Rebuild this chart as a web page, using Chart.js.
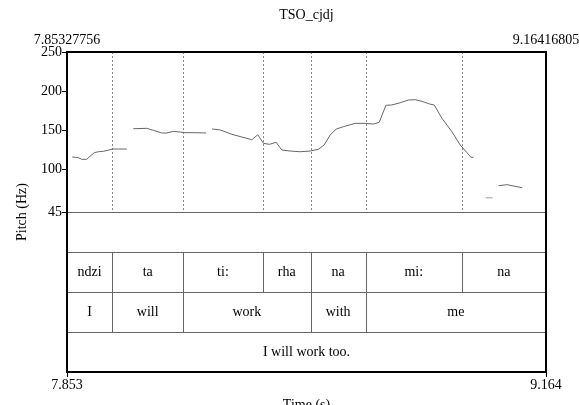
<!DOCTYPE html>
<html>
<head>
<meta charset="utf-8">
<script src="https://cdn.jsdelivr.net/npm/chart.js@4.4.0/dist/chart.umd.min.js"></script>
<style>
  html, body { margin: 0; padding: 0; background: #fff; }
  #wrap { width: 579px; height: 405px; }
</style>
</head>
<body>
<div id="wrap"><canvas id="chart-pitch"></canvas></div>
<script>
const T_START = 7.85327756;
const T_END = 9.16416805;

// pitch track, null = unvoiced gap
const pitchTimes = [
  7.8678, 7.8842, 7.8935, 7.9072, 7.9163, 7.9280, 7.9390, 7.9527, 7.9647, 7.9784, 7.9938, 8.0168,
  8.0250,
  8.0348, 8.0715, 8.0896, 8.1126, 8.1263, 8.1444, 8.1627, 8.1764, 8.2038, 8.2339,
  8.2420,
  8.2503, 8.2703, 8.2859, 8.3043, 8.3317, 8.3591, 8.3755, 8.3908, 8.4073, 8.4256, 8.4412,
  8.4639, 8.4913, 8.5187, 8.5414, 8.5570, 8.5735, 8.5899, 8.6099, 8.6419, 8.6693, 8.6920,
  8.7077, 8.7260, 8.7424, 8.7652, 8.7879, 8.8062, 8.8246, 8.8454, 8.8583, 8.8794, 8.9067,
  8.9295, 8.9478, 8.9588, 8.9659,
  8.9900,
  9.0344, 9.0573, 9.0992,
];
const pitchHz = [
  115.5, 114.6, 112.5, 112.5, 116.4, 121.0, 122.2, 122.8, 124.0, 125.7, 125.7, 125.7,
  null,
  151.7, 152.2, 149.7, 146.2, 146.2, 148.4, 147.5, 146.6, 146.6, 146.2,
  null,
  151.3, 150.4, 147.9, 144.5, 141.1, 137.6, 144.0, 133.0, 131.7, 134.3, 124.4,
  123.1, 122.2, 123.1, 125.3, 130.8, 143.6, 151.3, 154.3, 158.6, 158.6, 157.7,
  159.9, 181.7, 182.1, 185.0, 188.5, 188.9, 186.8, 183.4, 182.1, 165.0, 147.9,
  130.8, 121.0, 115.1, 115.1,
  null,
  78.7, 80.0, 76.1,
];
// faint isolated fragment
const faintTimes = [8.9992, 9.0179];
const faintHz = [63.3, 63.3];

const yTicks = [45, 100, 150, 200, 250];

const syllableBounds = [T_START, 7.9773, 8.1709, 8.3892, 8.5201, 8.6707, 8.9341, T_END];
const syllableLabels = ["ndzi", "ta", "ti:", "rha", "na", "mi:", "na"];
const wordBounds = [T_START, 7.9773, 8.1709, 8.5201, 8.6707, T_END];
const wordLabels = ["I", "will", "work", "with", "me"];
const sentenceBounds = [T_START, T_END];
const sentenceLabels = ["I will work too."];

// tier rows live below 45 Hz on the same y scale (each 51.25 Hz tall)
const tierEdges = [45, -6.25, -57.5, -108.75, -160];

const FONT = "Liberation Serif, 'Times New Roman', serif";

const textGridPlugin = {
  id: "textgrid",
  beforeDatasetsDraw(chart) {
    const { ctx, chartArea: a, scales: { x, y } } = chart;
    ctx.save();
    // dotted boundaries in the pitch panel
    ctx.strokeStyle = "#888";
    ctx.lineWidth = 1;
    ctx.setLineDash([2, 2]);
    syllableBounds.slice(1, -1).forEach((t) => {
      const px = Math.round(x.getPixelForValue(t)) + 0.5;
      ctx.beginPath();
      ctx.moveTo(px, a.top);
      ctx.lineTo(px, y.getPixelForValue(45));
      ctx.stroke();
    });
    ctx.setLineDash([]);
    ctx.restore();
  },
  afterDraw(chart) {
    const { ctx, chartArea: a, scales: { x, y } } = chart;
    ctx.save();
    ctx.strokeStyle = "#666";
    ctx.lineWidth = 1;
    tierEdges.slice(0, -1).forEach((v) => {
      const py = Math.round(y.getPixelForValue(v)) + 0.5;
      ctx.beginPath();
      ctx.moveTo(a.left, py);
      ctx.lineTo(a.right, py);
      ctx.stroke();
    });

    const tiers = [
      [syllableBounds, syllableLabels, 1],
      [wordBounds, wordLabels, 2],
      [sentenceBounds, sentenceLabels, 3],
    ];
    ctx.font = "14px " + FONT;
    ctx.fillStyle = "#000";
    ctx.textAlign = "center";
    ctx.textBaseline = "middle";
    tiers.forEach(([bounds, labels, row]) => {
      const top = y.getPixelForValue(tierEdges[row]);
      const bot = y.getPixelForValue(tierEdges[row + 1]);
      bounds.slice(1, -1).forEach((t) => {
        const px = Math.round(x.getPixelForValue(t)) + 0.5;
        ctx.beginPath();
        ctx.moveTo(px, top);
        ctx.lineTo(px, bot);
        ctx.stroke();
      });
      labels.forEach((lab, i) => {
        const cx = (x.getPixelForValue(bounds[i]) + x.getPixelForValue(bounds[i + 1])) / 2;
        ctx.fillText(lab, cx, (top + bot) / 2);
      });
    });

    // frame
    ctx.strokeStyle = "#000";
    ctx.lineWidth = 2;
    ctx.strokeRect(a.left, a.top, a.right - a.left, a.bottom - a.top);

    // top labels and titles
    ctx.font = "14px " + FONT;
    ctx.textBaseline = "alphabetic";
    ctx.fillText(String(T_START), a.left, a.top - 8);
    ctx.fillText(String(T_END), a.right, a.top - 8);
    ctx.fillText("TSO_cjdj", (a.left + a.right) / 2, 19);
    ctx.fillText("Time (s)", (a.left + a.right) / 2, 409);
    ctx.translate(22, (a.top + a.bottom) / 2);
    ctx.rotate(-Math.PI / 2);
    ctx.textBaseline = "middle";
    ctx.fillText("Pitch (Hz)", 0, 0);
    ctx.restore();
  },
};

function toPoints(xs, ys) {
  return xs.map((t, i) => ({ x: t, y: ys[i] }));
}

document.addEventListener("DOMContentLoaded", () => {
  new Chart(document.getElementById("chart-pitch"), {
    type: "line",
    data: {
      datasets: [
        { data: toPoints(pitchTimes, pitchHz), borderColor: "#666", borderWidth: 1, pointRadius: 0, spanGaps: false, tension: 0 },
        { data: toPoints(faintTimes, faintHz), borderColor: "#bbb", borderWidth: 1.5, pointRadius: 0, tension: 0 },
      ],
    },
    options: {
      responsive: true,
      maintainAspectRatio: false,
      animation: false,
      events: [],
      layout: { padding: { top: 52, right: 33, left: 0, bottom: 0 } },
      plugins: { legend: { display: false }, tooltip: { enabled: false } },
      scales: {
        x: {
          type: "linear",
          min: T_START,
          max: T_END,
          afterBuildTicks: (s) => { s.ticks = [{ value: T_START }, { value: T_END }]; },
          afterFit: (s) => { s.height = 33; },
          ticks: {
            autoSkip: false,
            maxRotation: 0,
            padding: 0,
            color: "#000",
            font: { family: FONT, size: 14 },
            callback: (v) => Number(v).toFixed(3),
          },
          grid: { drawOnChartArea: false, tickLength: 5, color: "#000" },
          border: { display: false },
        },
        y: {
          type: "linear",
          min: -160,
          max: 250,
          afterBuildTicks: (s) => { s.ticks = yTicks.map((v) => ({ value: v })); },
          afterFit: (s) => { s.width = 67; },
          ticks: { padding: 0, color: "#000", font: { family: FONT, size: 14 } },
          grid: { drawOnChartArea: false, tickLength: 5, color: "#000" },
          border: { display: false },
        },
      },
    },
    plugins: [textGridPlugin],
  });
});
</script>
</body>
</html>
